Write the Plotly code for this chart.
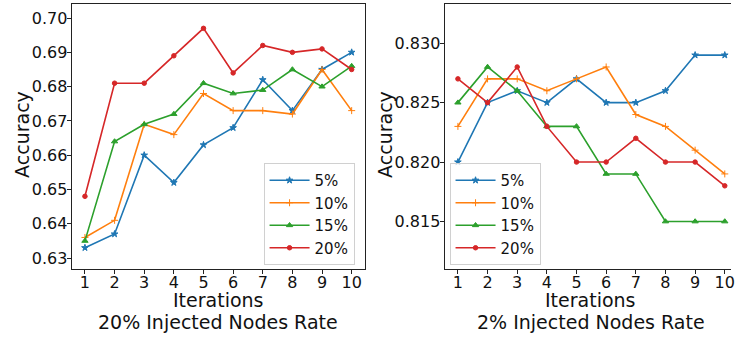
import plotly.graph_objects as go

iterations = [1, 2, 3, 4, 5, 6, 7, 8, 9, 10]
series_names = ["5%", "10%", "15%", "20%"]

left_5 = [0.633, 0.637, 0.660, 0.652, 0.663, 0.668, 0.682, 0.673, 0.685, 0.690]
left_10 = [0.636, 0.641, 0.669, 0.666, 0.678, 0.673, 0.673, 0.672, 0.685, 0.673]
left_15 = [0.635, 0.664, 0.669, 0.672, 0.681, 0.678, 0.679, 0.685, 0.680, 0.686]
left_20 = [0.648, 0.681, 0.681, 0.689, 0.697, 0.684, 0.692, 0.690, 0.691, 0.685]

right_5 = [0.820, 0.825, 0.826, 0.825, 0.827, 0.825, 0.825, 0.826, 0.829, 0.829]
right_10 = [0.823, 0.827, 0.827, 0.826, 0.827, 0.828, 0.824, 0.823, 0.821, 0.819]
right_15 = [0.825, 0.828, 0.826, 0.823, 0.823, 0.819, 0.819, 0.815, 0.815, 0.815]
right_20 = [0.827, 0.825, 0.828, 0.823, 0.820, 0.820, 0.822, 0.820, 0.820, 0.818]

left_ticks = [0.63, 0.64, 0.65, 0.66, 0.67, 0.68, 0.69, 0.70]
right_ticks = [0.815, 0.820, 0.825, 0.830]

colors = ["#1f77b4", "#ff7f0e", "#2ca02c", "#d62728"]
symbols = ["star", "cross-thin", "triangle-up", "circle"]
msizes = [5, 5, 5.5, 4.5]

W, H = 735, 337
FONT = "DejaVu Sans"

fig = go.Figure()

left_data = [left_5, left_10, left_15, left_20]
right_data = [right_5, right_10, right_15, right_20]

for i, name in enumerate(series_names):
    fig.add_trace(go.Scatter(
        x=iterations, y=left_data[i], name=name, mode="lines+markers",
        line=dict(color=colors[i], width=1.6),
        marker=dict(symbol=symbols[i], size=msizes[i], color=colors[i],
                    line=dict(color=colors[i], width=1)),
        xaxis="x", yaxis="y", legend="legend"))
for i, name in enumerate(series_names):
    fig.add_trace(go.Scatter(
        x=iterations, y=right_data[i], name=name, mode="lines+markers",
        line=dict(color=colors[i], width=1.6),
        marker=dict(symbol=symbols[i], size=msizes[i], color=colors[i],
                    line=dict(color=colors[i], width=1)),
        xaxis="x2", yaxis="y2", legend="legend2"))

def px(xp):
    return xp / W

def py(yp):
    return (H - yp) / H

axis_common = dict(showgrid=False, zeroline=False, showline=True, linecolor="#222",
                   linewidth=1, ticks="outside", ticklen=4, tickcolor="#222",
                   ticklabeloverflow="allow",
                   tickfont=dict(family=FONT, size=16, color="#111"))

legend_common = dict(xanchor="left", yanchor="top",
                     bgcolor="rgba(255,255,255,0.8)", bordercolor="#d0d0d0", borderwidth=1,
                     itemwidth=40,
                     font=dict(family=FONT, size=15, color="#111"))

fig.update_layout(
    width=W, height=H,
    margin=dict(l=0, r=0, t=0, b=0),
    paper_bgcolor="white", plot_bgcolor="white",
    font=dict(family=FONT, color="#111"),
    xaxis=dict(domain=[px(72), px(367)], range=[0.55, 10.45], tickvals=iterations,
               mirror=True, anchor="y", ticklabelstandoff=-5, **axis_common),
    yaxis=dict(domain=[py(269), py(4)], range=[0.6268, 0.7041], tickvals=left_ticks,
               tickformat=".2f", mirror=True, anchor="x", ticklabelstandoff=-4, **axis_common),
    xaxis2=dict(domain=[px(447), 1.0], range=[0.55, 10.21], tickvals=iterations,
                mirror=True, anchor="y2", ticklabelstandoff=-5, **axis_common),
    yaxis2=dict(domain=[py(269), py(4)], range=[0.811, 0.8333], tickvals=right_ticks,
                tickformat=".3f", mirror=False, anchor="x2", ticklabelstandoff=-4, **axis_common),
    legend=dict(x=px(265), y=py(163), **legend_common),
    legend2=dict(x=px(452), y=py(163), **legend_common),
    showlegend=True,
)

ann_font = dict(family=FONT, size=19, color="#111")
annotations = [
    dict(text="Iterations", x=px(219.5), y=py(300), xref="paper", yref="paper",
         showarrow=False, font=ann_font, xanchor="center", yanchor="middle"),
    dict(text="20% Injected Nodes Rate", x=px(219.5), y=py(322), xref="paper", yref="paper",
         showarrow=False, font=ann_font, xanchor="center", yanchor="middle"),
    dict(text="Iterations", x=px(594), y=py(300), xref="paper", yref="paper",
         showarrow=False, font=ann_font, xanchor="center", yanchor="middle"),
    dict(text="2% Injected Nodes Rate", x=px(594), y=py(322), xref="paper", yref="paper",
         showarrow=False, font=ann_font, xanchor="center", yanchor="middle"),
    dict(text="Accuracy", x=px(22), y=py(134), xref="paper", yref="paper",
         showarrow=False, font=ann_font, textangle=-90, xanchor="center", yanchor="middle"),
    dict(text="Accuracy", x=px(387), y=py(134), xref="paper", yref="paper",
         showarrow=False, font=ann_font, textangle=-90, xanchor="center", yanchor="middle"),
]
fig.update_layout(annotations=annotations)

fig.write_html("out.html", config={"displayModeBar": False},
               post_script="document.body.style.margin='0';document.body.style.overflow='hidden';")
